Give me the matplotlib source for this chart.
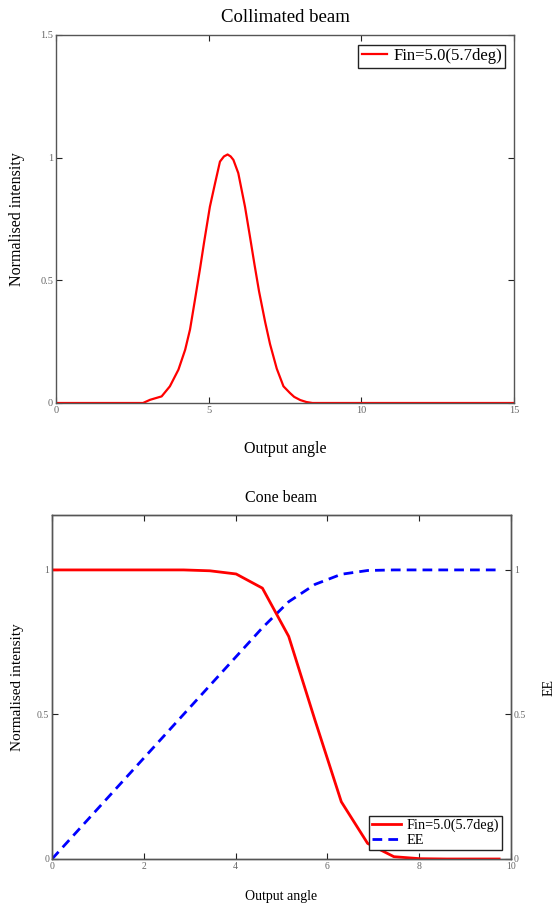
import matplotlib
matplotlib.use("Agg")
import matplotlib.pyplot as plt

plt.rcParams['font.family'] = ['Liberation Serif', 'DejaVu Serif']

# Collimated beam data
coll_x = [0, 2.85, 3.08, 3.46, 3.73, 4.01, 4.23, 4.39, 4.55, 4.72, 4.85, 5.04, 5.21,
          5.37, 5.5, 5.62, 5.72, 5.81, 5.97, 6.19, 6.35, 6.5, 6.65, 6.85, 7.01, 7.23,
          7.45, 7.66, 7.8, 8.0, 8.2, 8.4, 15]
coll_y = [0, 0, 0.013, 0.027, 0.068, 0.136, 0.217, 0.30, 0.42, 0.55, 0.655, 0.80, 0.896,
          0.984, 1.005, 1.013, 1.005, 0.991, 0.937, 0.80, 0.68, 0.565, 0.455, 0.33, 0.24, 0.14,
          0.068, 0.041, 0.025, 0.012, 0.004, 0.0, 0.0]

# Cone beam data
cone_x = [0, 0.573, 1.146, 1.719, 2.292, 2.865, 3.438, 4.011, 4.584, 5.157, 5.73,
          6.303, 6.876, 7.449, 8.022, 8.595, 9.168, 9.741]
cone_int = [1, 1, 1, 1, 1, 1, 0.997, 0.986, 0.937, 0.77, 0.48,
            0.198, 0.054, 0.008, 0.001, 0, 0, 0]
cone_ee = [0, 0.1, 0.2, 0.3, 0.4, 0.5, 0.6, 0.7, 0.8, 0.89, 0.95,
           0.985, 0.998, 1.0, 1.0, 1.0, 1.0, 1.0]

legend_label = "Fin=5.0(5.7deg)"

fig = plt.figure(figsize=(5.55, 9.11), dpi=100)

spine_col = '#555555'
tick_col = '#666666'

def style_axes(ax, ls):
    for s in ax.spines.values():
        s.set_color(spine_col)
        s.set_linewidth(1.0)
    ax.tick_params(direction='in', length=4, width=0.8, color='#222222',
                   labelsize=ls, labelcolor=tick_col, pad=2)

# Top axes
ax1 = fig.add_axes([56/555, (911-403)/911, 458/555, 368/911])
ax1.plot(coll_x, coll_y, color='#ff0000', lw=1.6, label=legend_label)
ax1.set_xlim(0, 15)
ax1.set_ylim(0, 1.5)
ax1.set_xticks([0, 5, 10, 15])
ax1.set_xticklabels(['0', '5', '10', '15'])
ax1.set_yticks([0, 0.5, 1, 1.5])
ax1.set_yticklabels(['0', '0.5', '1', '1.5'])
style_axes(ax1, 7.5)
ax1.tick_params(top=True, right=True)
ax1.set_title("Collimated beam", fontsize=13.5, pad=9)
ax1.set_xlabel("Output angle", fontsize=11.5, labelpad=19)
ax1.set_ylabel("Normalised intensity", fontsize=11.5, labelpad=11)
leg1 = ax1.legend(loc='upper right', bbox_to_anchor=(0.981, 0.973), fontsize=12,
                  fancybox=False, edgecolor='#222222', framealpha=1,
                  handlelength=1.5, borderpad=0.2, handletextpad=0.4, borderaxespad=0)
leg1.get_frame().set_linewidth(1.0)

# Bottom axes
ax2 = fig.add_axes([52/555, (911-859)/911, 459/555, 344/911])
l1, = ax2.plot(cone_x, cone_int, color='#ff0000', lw=2.0, label=legend_label)
ax2.set_xlim(0, 10)
ax2.set_ylim(0, 1.19)
ax2.set_xticks([0, 2, 4, 6, 8, 10])
ax2.set_yticks([0, 0.5, 1])
ax2.set_yticklabels(['0', '0.5', '1'])
style_axes(ax2, 7)
ax2.tick_params(top=True)
ax2.set_title("Cone beam", fontsize=11.5, pad=9)
ax2.set_xlabel("Output angle", fontsize=10, labelpad=14)
ax2.set_ylabel("Normalised intensity", fontsize=11, labelpad=9)

ax3 = ax2.twinx()
l2, = ax3.plot(cone_x, cone_ee, color='#0000ff', lw=2.0, linestyle=(0, (3.5, 2.2)), label='EE')
ax3.set_ylim(0, 1.19)
ax3.set_yticks([0, 0.5, 1])
ax3.set_yticklabels(['0', '0.5', '1'])
style_axes(ax3, 7)
ax3.set_ylabel("EE", fontsize=10, labelpad=12)
ax3.set_zorder(ax2.get_zorder() - 1)
ax2.patch.set_visible(False)

leg2 = ax2.legend([l1, l2], [legend_label, 'EE'], loc='lower right',
                  bbox_to_anchor=(0.98, 0.026), fontsize=10.3,
                  fancybox=False, edgecolor='#222222', framealpha=1,
                  handlelength=2.0, borderpad=0.2, handletextpad=0.4,
                  labelspacing=0.15, borderaxespad=0)
leg2.get_frame().set_linewidth(1.0)

fig.savefig("out.png", dpi=100)
